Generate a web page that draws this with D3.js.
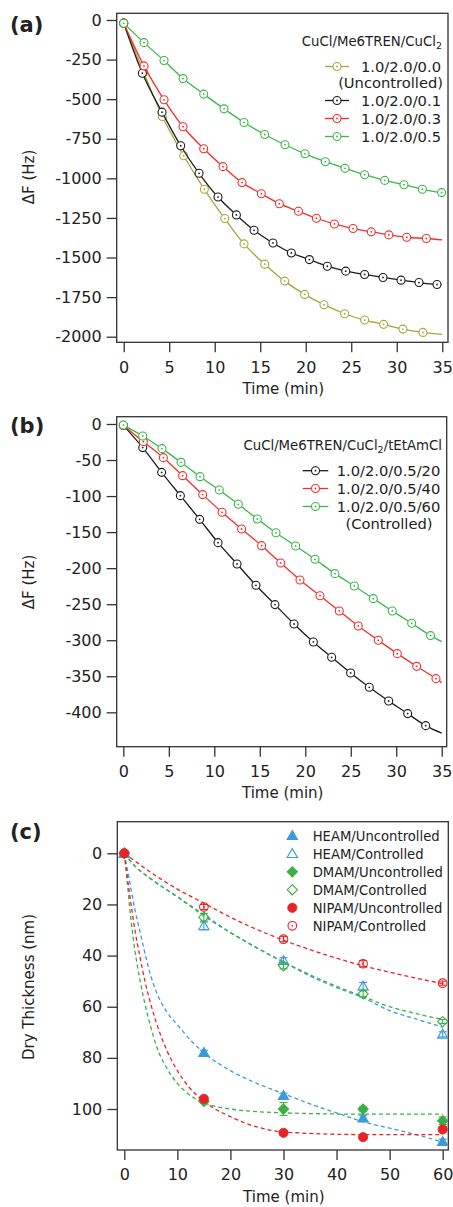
<!DOCTYPE html>
<html><head><meta charset="utf-8">
<script src="https://cdn.jsdelivr.net/npm/d3@7"></script>
<style>body{margin:0;background:#fff}svg{display:block}text{font-family:"DejaVu Sans",sans-serif;fill:#222}</style>
</head><body><svg id="chart" width="453" height="1207"></svg>
<script>
// ---------- Panel (a) data: ΔF (Hz) vs time (min) ----------
const aYellowT = [0, 2.2, 4.25, 6.59, 8.86, 11.1, 13.22, 15.49, 17.69, 19.88, 22.0, 24.28, 26.47, 28.56, 30.68, 32.88];
const aYellowV = [-20, -330, -609, -857, -1069, -1254, -1414, -1542, -1649, -1733, -1798, -1855, -1895, -1922, -1952, -1973];
const aYellowEnd = [35, -1985];
const aBlackT = [0, 2.05, 4.21, 6.26, 8.28, 10.36, 12.38, 14.32, 16.4, 18.42, 20.4, 22.37, 24.39, 26.47, 28.49, 30.47, 32.44, 34.42];
const aBlackV = [-20, -336, -582, -794, -968, -1118, -1231, -1328, -1408, -1471, -1513, -1555, -1586, -1607, -1626, -1643, -1658, -1670];
const aBlackEnd = [34.9, -1672];
const aRedT = [0, 2.23, 4.43, 6.52, 8.79, 10.91, 13.0, 15.12, 17.1, 19.2, 21.17, 23.15, 25.2, 27.2, 29.13, 31.1, 33.25];
const aRedV = [-20, -290, -504, -674, -813, -926, -1027, -1097, -1160, -1208, -1252, -1288, -1317, -1338, -1357, -1372, -1380];
const aRedEnd = [35, -1389];
const aGreenT = [0, 2.23, 4.43, 6.52, 8.79, 11.02, 13.22, 15.49, 17.72, 19.92, 22.15, 24.31, 26.47, 28.67, 30.79, 32.81, 34.93];
const aGreenV = [-21, -143, -256, -370, -468, -561, -647, -723, -788, -845, -895, -937, -977, -1013, -1040, -1069, -1090];
const aLegendTitle = "CuCl/Me6TREN/CuCl";
const aLegend = ["1.0/2.0/0.0", "1.0/2.0/0.1", "1.0/2.0/0.3", "1.0/2.0/0.5"];
const aXTicks = [0, 5, 10, 15, 20, 25, 30, 35];
const aYTicks = [0, -250, -500, -750, -1000, -1250, -1500, -1750, -2000];

// ---------- Panel (b) data ----------
const bBlackT = [0, 2.13, 4.21, 6.27, 8.39, 10.41, 12.5, 14.58, 16.67, 18.76, 20.89, 22.9, 24.99, 27.04, 29.17, 31.26, 33.24];
const bBlackV = [-2, -32.8, -67.1, -99.4, -132.3, -164.6, -194.2, -223.8, -250.6, -277.5, -302.4, -323.7, -345.4, -365.3, -384.3, -401.8, -418.5];
const bBlackEnd = [35, -429];
const bRedT = [0, 2.2, 4.4, 6.52, 8.72, 10.85, 13.0, 15.2, 17.3, 19.42, 21.62, 23.74, 25.83, 28.03, 30.12, 32.25, 34.37];
const bRedV = [-2, -24.5, -46.7, -71.7, -98.0, -122.5, -145.7, -168.8, -192.8, -216.4, -238.2, -259.4, -280.2, -300.1, -318.6, -336.2, -353.3];
const bRedEnd = [35, -358.8];
const bGreenT = [0, 2.13, 4.25, 6.34, 8.43, 10.55, 12.64, 14.73, 16.78, 18.94, 21.07, 23.27, 25.39, 27.48, 29.57, 31.7, 33.78];
const bGreenV = [-1.5, -16.6, -34.2, -53.2, -73.1, -91.6, -111.4, -131.8, -150.8, -169.2, -187.7, -207.6, -224.7, -242.3, -259.4, -276.5, -293.6];
const bGreenEnd = [35, -302];
const bLegend = ["1.0/2.0/0.5/20", "1.0/2.0/0.5/40", "1.0/2.0/0.5/60"];
const bXTicks = [0, 5, 10, 15, 20, 25, 30, 35];
const bYTicks = [0, -50, -100, -150, -200, -250, -300, -350, -400];

// ---------- Panel (c) data: dry thickness (nm) ----------
const cTimes = [0, 15, 30, 45, 60];
const heamU = [0, 78, 94.8, 103.6, 112.8];
const heamUErr = [0, 1, 1, 1, 1];
const heamC = [0, 28.4, 42, 52, 70.8];
const heamCErr = [0, 1.5, 1.2, 1.5, 1];
const dmamU = [0, 97, 100, 100, 104.6];
const dmamUErr = [0, 0.8, 2.5, 0.8, 1.5];
const dmamC = [0, 25, 44, 55, 65.8];
const dmamCErr = [0, 1.5, 1.2, 1.2, 0.8];
const nipamU = [0, 96, 109.3, 111, 108];
const nipamUErr = [0, 0.8, 0.8, 0.8, 1];
const nipamC = [0, 21, 33.6, 43.2, 50.8];
const nipamCErr = [0, 1, 1, 1.2, 0.8];
// dashed fit curves
const fitHeamUT = [0, 1, 2, 3, 4, 5, 6, 8, 10, 12, 15, 20, 25, 30, 35, 40, 45, 50, 55, 60];
const fitHeamUV = [0, 11, 22, 31, 40, 48, 54, 62, 67, 72, 78, 85, 90, 94, 98, 101.5, 105, 107.5, 110, 113];
const fitDmamUT = [0, 0.5, 1, 2, 3, 4, 5, 6, 8, 10, 12, 15, 20, 30, 45, 60];
const fitDmamUV = [0, 10, 21, 38, 50, 60, 68, 75, 84, 90, 94, 97.5, 100, 101.5, 102, 102];
const fitNipamUT = [0, 1, 2, 3, 4, 5, 6, 8, 10, 12, 15, 20, 25, 30, 45, 60];
const fitNipamUV = [0, 16, 30, 41, 51, 59, 66, 77, 85, 91, 97, 103, 107, 109, 110, 110];
const fitHeamCT = [0, 2, 5, 10, 15, 20, 25, 30, 35, 40, 45, 50, 55, 60];
const fitHeamCV = [0, 5, 10, 17, 24, 31, 37, 42.5, 48, 52.5, 56.5, 61.5, 64.8, 68];
const fitDmamCT = [0, 2, 5, 10, 15, 20, 25, 30, 35, 40, 45, 50, 55, 60];
const fitDmamCV = [0, 5, 10, 17, 24.5, 31, 37, 42.5, 47.5, 52, 56, 60, 62.7, 65];
const fitNipamCT = [0, 2, 5, 10, 15, 20, 30, 40, 45, 50, 60];
const fitNipamCV = [0, 3, 7.5, 14, 19.5, 25, 34, 41, 44, 46.5, 51];
const cLegend = ["HEAM/Uncontrolled", "HEAM/Controlled", "DMAM/Uncontrolled", "DMAM/Controlled", "NIPAM/Uncontrolled", "NIPAM/Controlled"];
const cXTicks = [0, 10, 20, 30, 40, 50, 60];
const cYTicks = [0, 20, 40, 60, 80, 100];

// ---------- colours ----------
const OLIVE = "#aaa43c", BLACK = "#1c1c1c", RED = "#f0302c", GREEN = "#3db54a";
const CBLUE = "#3b9ad8", CGREEN = "#3caf44", CRED = "#e82228";

const svg = d3.select("#chart");
const zip = (t, v) => t.map((d, i) => [d, v[i]]);

function panel(cfg) {
  const g = svg.append("g");
  const x = d3.scaleLinear().domain(cfg.xd).range([cfg.l, cfg.r]);
  const y = d3.scaleLinear().domain(cfg.yd).range([cfg.b, cfg.t]);
  const fmt = d => String(d);
  const ax = g.append("g").attr("transform", `translate(0,${cfg.b})`)
    .call(d3.axisBottom(x).tickValues(cfg.xt).tickSize(10).tickPadding(9).tickFormat(fmt));
  const ay = g.append("g").attr("transform", `translate(${cfg.l},0)`)
    .call(d3.axisLeft(y).tickValues(cfg.yt).tickSize(10).tickPadding(5).tickFormat(fmt));
  [ax, ay].forEach(a => {
    a.select(".domain").remove();
    a.selectAll("line").attr("stroke", "#333").attr("stroke-width", 1.3);
    a.selectAll("text").style("font-family", '"DejaVu Sans",sans-serif').style("font-size", "16px").attr("fill", "#222");
  });
  g.append("rect").attr("x", cfg.l).attr("y", cfg.t).attr("width", cfg.r - cfg.l).attr("height", cfg.b - cfg.t)
    .attr("fill", "none").attr("stroke", "#333").attr("stroke-width", 1.3);
  g.append("text").attr("x", 10).attr("y", cfg.lblY).style("font-weight", "bold").style("font-size", "21px").text(cfg.lbl);
  g.append("text").attr("x", (cfg.l + cfg.r) / 2 + 1).attr("y", cfg.xtY).attr("text-anchor", "middle").style("font-size", "15px").text("Time (min)");
  g.append("text").attr("transform", `translate(34,${cfg.ytC}) rotate(-90)`).attr("text-anchor", "middle").style("font-size", "15px").text(cfg.ytitle);
  const plot = g.append("g");
  return {g, plot, x, y};
}

function circleMarker(sel, cx, cy, color, r) {
  sel.append("circle").attr("cx", cx).attr("cy", cy).attr("r", r).attr("fill", "#fff").attr("stroke", color).attr("stroke-width", 1.1);
  sel.append("circle").attr("cx", cx).attr("cy", cy).attr("r", 0.9).attr("fill", color);
}

function drawSeries(p, t, v, end, color) {
  const pts = zip(t, v);
  const linePts = end ? pts.concat([end]) : pts;
  const line = d3.line().x(d => p.x(d[0])).y(d => p.y(d[1])).curve(d3.curveMonotoneX);
  p.plot.append("path").attr("d", line(linePts)).attr("fill", "none").attr("stroke", color).attr("stroke-width", 1.3);
  const mg = p.plot.append("g");
  pts.forEach(d => circleMarker(mg, p.x(d[0]), p.y(d[1]), color, 4));
}

function legendRow(g, x1, x2, cx, tx, cy, color, label, fs) {
  g.append("line").attr("x1", x1).attr("x2", x2).attr("y1", cy).attr("y2", cy).attr("stroke", color).attr("stroke-width", 1.3);
  circleMarker(g, cx, cy, color, 4);
  g.append("text").attr("x", tx).attr("y", cy + 5.3).style("font-size", fs + "px").text(label);
}

// ---------- Panel (a) ----------
const pa = panel({l: 116.7, r: 448, t: 13.3, b: 342.3, xd: [-0.77, 35.63], yd: [-2035.4, 42.3],
  xt: aXTicks, yt: aYTicks, lbl: "(a)", lblY: 32, xtY: 394, ytC: 177, ytitle: "ΔF (Hz)"});
drawSeries(pa, aYellowT, aYellowV, aYellowEnd, OLIVE);
drawSeries(pa, aBlackT, aBlackV, aBlackEnd, BLACK);
drawSeries(pa, aRedT, aRedV, aRedEnd, RED);
drawSeries(pa, aGreenT, aGreenV, null, GREEN);
{
  const lg = pa.g.append("g");
  const tt = lg.append("text").attr("x", 442).attr("y", 46).attr("text-anchor", "end").style("font-size", "13.3px");
  tt.append("tspan").text(aLegendTitle);
  tt.append("tspan").attr("dy", 3).style("font-size", "9.5px").text("2");
  const cols = [OLIVE, BLACK, RED, GREEN];
  const ys = [66.5, 100.5, 118.5, 136.5];
  aLegend.forEach((s, i) => legendRow(lg, 325, 349, 337, 361, ys[i], cols[i], s, 14.7));
  lg.append("text").attr("x", 443).attr("y", 82.5 + 5.3).attr("text-anchor", "end").style("font-size", "14.7px").text("(Uncontrolled)");
}

// ---------- Panel (b) ----------
const pb = panel({l: 116.7, r: 446.7, t: 416.7, b: 746.7, xd: [-0.73, 35.55], yd: [-447.7, 10.1],
  xt: bXTicks, yt: bYTicks, lbl: "(b)", lblY: 433, xtY: 798, ytC: 582, ytitle: "ΔF (Hz)"});
drawSeries(pb, bBlackT, bBlackV, bBlackEnd, BLACK);
drawSeries(pb, bRedT, bRedV, bRedEnd, RED);
drawSeries(pb, bGreenT, bGreenV, bGreenEnd, GREEN);
{
  const lg = pb.g.append("g");
  const tt = lg.append("text").attr("x", 442).attr("y", 450).attr("text-anchor", "end").style("font-size", "13.3px");
  tt.append("tspan").text(aLegendTitle);
  tt.append("tspan").attr("dy", 3).style("font-size", "9.5px").text("2");
  tt.append("tspan").attr("dy", -3).text("/tEtAmCl");
  const cols = [BLACK, RED, GREEN];
  const ys = [470.7, 488.5, 506.5];
  bLegend.forEach((s, i) => legendRow(lg, 302.7, 328.3, 315.5, 336.7, ys[i], cols[i], s, 14.7));
  lg.append("text").attr("x", 389).attr("y", 524 + 5.3).attr("text-anchor", "middle").style("font-size", "14.7px").text("(Controlled)");
}

// ---------- Panel (c) ----------
const pc = panel({l: 117.3, r: 448.3, t: 821.7, b: 1150, xd: [-1.32, 61.06], yd: [116.03, -12.36],
  xt: cXTicks, yt: cYTicks, lbl: "(c)", lblY: 839, xtY: 1202, ytC: 987, ytitle: "Dry Thickness (nm)"});
{
  const line = d3.line().x(d => pc.x(d[0])).y(d => pc.y(d[1])).curve(d3.curveMonotoneX);
  const fits = [
    [fitHeamCT, fitHeamCV, CBLUE], [fitDmamCT, fitDmamCV, CGREEN], [fitNipamCT, fitNipamCV, CRED],
    [fitHeamUT, fitHeamUV, CBLUE], [fitDmamUT, fitDmamUV, CGREEN], [fitNipamUT, fitNipamUV, CRED]
  ];
  fits.forEach(f => pc.plot.append("path").attr("d", line(zip(f[0], f[1]))).attr("fill", "none")
    .attr("stroke", f[2]).attr("stroke-width", 1.3).attr("stroke-dasharray", "4,3"));

  function marker(sel, cx, cy, kind, color) {
    if (kind === "tri" || kind === "otri") {
      sel.append("path").attr("transform", `translate(${cx},${cy + 0.8})`).attr("d", d3.symbol(d3.symbolTriangle, 46)())
        .attr("fill", kind === "tri" ? color : "none").attr("stroke", color).attr("stroke-width", 1.1);
    } else if (kind === "dia" || kind === "odia") {
      sel.append("path").attr("transform", `translate(${cx},${cy}) rotate(45)`).attr("d", d3.symbol(d3.symbolSquare, 52)())
        .attr("fill", kind === "dia" ? color : "none").attr("stroke", color).attr("stroke-width", 1.1);
    } else if (kind === "cir") {
      sel.append("circle").attr("cx", cx).attr("cy", cy).attr("r", 4.6).attr("fill", color).attr("stroke", color).attr("stroke-width", 0.8);
    } else {
      sel.append("circle").attr("cx", cx).attr("cy", cy).attr("r", 4.3).attr("fill", "none").attr("stroke", color).attr("stroke-width", 1.1);
      sel.append("circle").attr("cx", cx).attr("cy", cy).attr("r", 0.9).attr("fill", color);
    }
  }
  const sets = [
    [heamC, heamCErr, "otri", CBLUE], [dmamC, dmamCErr, "odia", CGREEN], [nipamC, nipamCErr, "ocir", CRED],
    [heamU, heamUErr, "tri", CBLUE], [dmamU, dmamUErr, "dia", CGREEN], [nipamU, nipamUErr, "cir", CRED]
  ];
  sets.forEach(s => {
    const mg = pc.plot.append("g");
    cTimes.forEach((t, i) => {
      const cx = pc.x(t), cy = pc.y(s[0][i]);
      if (s[1][i] > 0) {
        const y1 = pc.y(s[0][i] - s[1][i]), y2 = pc.y(s[0][i] + s[1][i]);
        mg.append("line").attr("x1", cx).attr("x2", cx).attr("y1", y1).attr("y2", y2).attr("stroke", s[3]).attr("stroke-width", 1.1);
        [y1, y2].forEach(yy => mg.append("line").attr("x1", cx - 4).attr("x2", cx + 4).attr("y1", yy).attr("y2", yy).attr("stroke", s[3]).attr("stroke-width", 1.1));
      }
      marker(mg, cx, cy, s[2], s[3]);
    });
  });
  const lg = pc.g.append("g");
  const kinds = [["tri", CBLUE], ["otri", CBLUE], ["dia", CGREEN], ["odia", CGREEN], ["cir", CRED], ["ocir", CRED]];
  const ys = [835.7, 853.8, 871.8, 889.8, 907.8, 925.8];
  cLegend.forEach((s, i) => {
    marker(lg, 292.3, ys[i], kinds[i][0], kinds[i][1]);
    lg.append("text").attr("x", 312.7).attr("y", ys[i] + 4.8).style("font-size", "13.2px").text(s);
  });
}
</script></body></html>
